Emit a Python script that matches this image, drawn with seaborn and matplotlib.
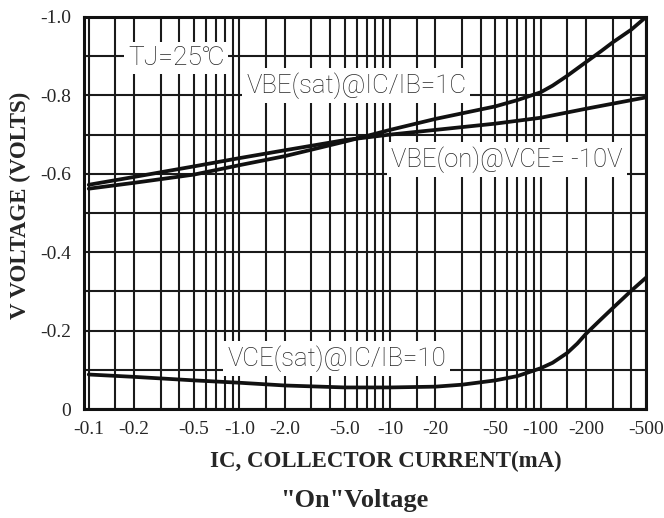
import numpy as np
import pandas as pd
import matplotlib
matplotlib.use('Agg')
import matplotlib.pyplot as plt
from matplotlib.ticker import NullFormatter
import seaborn as sns


# collector current magnitude (mA) -> voltage (V)
ic_on  = [0.1, 0.2, 0.5, 1.0, 2.0, 5.0, 10, 20, 50, 100, 200, 500]
vbe_on = [-0.572, -0.592, -0.619, -0.640, -0.660, -0.686, -0.700,
          -0.712, -0.728, -0.743, -0.766, -0.795]

ic_sat  = [0.1, 0.2, 0.5, 1.0, 2.0, 5.0, 10, 20, 50, 70, 100, 120, 150, 200,
           250, 300, 400, 500]
vbe_sat = [-0.562, -0.577, -0.598, -0.622, -0.645, -0.682, -0.712, -0.740,
           -0.772, -0.788, -0.808, -0.825, -0.850, -0.885, -0.912, -0.935,
           -0.968, -1.000]

ic_ce  = [0.1, 0.2, 0.5, 1.0, 2.0, 5.0, 10, 20, 30, 50, 70, 100, 120, 150,
          175, 200, 250, 300, 400, 500]
vce_sat = [-0.088, -0.082, -0.073, -0.067, -0.060, -0.055, -0.055, -0.057,
           -0.062, -0.073, -0.084, -0.104, -0.118, -0.143, -0.167, -0.192,
           -0.228, -0.257, -0.302, -0.335]

x_ticks  = [0.1, 0.2, 0.5, 1.0, 2.0, 5.0, 10, 20, 50, 100, 200, 500]
x_labels = ['-0.1', '-0.2', '-0.5', '-1.0', '-2.0', '-5.0',
            '-10', '-20', '-50', '-100', '-200', '-500']
y_ticks  = [0, -0.2, -0.4, -0.6, -0.8, -1.0]
y_labels = ['0', '-0.2', '-0.4', '-0.6', '-0.8', '-1.0']


sns.set_style('white')
plt.rcParams['axes.unicode_minus'] = False
SERIF = 'Liberation Serif'
LABEL_FONT = ['Roboto', 'DejaVu Sans']

fig = plt.figure(figsize=(6.64, 5.18), dpi=100)
ax = fig.add_axes([84 / 664, 109 / 518, 562 / 664, 392 / 518])

curves = [
    (ic_on, vbe_on),
    (ic_sat, vbe_sat),
    (ic_ce, vce_sat),
]
for ic, v in curves:
    df = pd.DataFrame({'ic': ic, 'v': v})
    sns.lineplot(data=df, x='ic', y='v', ax=ax, color='#111111',
                 lw=2.7, sort=False, zorder=3)

ax.set_xscale('log')
ax.set_xlim(0.093, 500)
ax.set_ylim(0, -1.0)

# log grid with an extra 1.5 line per decade
grid_x = [d * m for d in (0.1, 1, 10, 100)
          for m in (1, 1.5, 2, 3, 4, 5, 6, 7, 8, 9) if d * m <= 500]
ax.set_xticks(grid_x, minor=True)
ax.xaxis.set_minor_formatter(NullFormatter())
ax.set_xticks(x_ticks)
ax.set_xticklabels(x_labels, fontsize=14, family=SERIF)
ax.set_yticks(np.round(np.arange(-0.1, -1.0, -0.2), 1), minor=True)
ax.yaxis.set_minor_formatter(NullFormatter())
ax.set_yticks(y_ticks)
ax.set_yticklabels(y_labels, fontsize=14, family=SERIF)
ax.tick_params(which='both', length=0)
ax.tick_params(axis='x', pad=9)
ax.tick_params(axis='y', pad=9)

ax.set_axisbelow(True)
ax.grid(which='both', color='#1a1a1a', lw=1.5)
for s in ax.spines.values():
    s.set_color('#111111')
    s.set_linewidth(2.2)

ax.set_xlabel('')
ax.set_ylabel('')

box = dict(facecolor='white', edgecolor='none', pad=3)
ax.text(0.38, -0.895, 'TJ=25\u2103', fontsize=19, family=LABEL_FONT,
        fontweight='light', ha='center', va='center', bbox=box, zorder=4)
ax.text(1.11, -0.826, 'VBE(sat)@IC/IB=1C', fontsize=18.5, family=LABEL_FONT,
        fontweight='light', ha='left', va='center', bbox=box, zorder=4)
ax.text(10.2, -0.637, 'VBE(on)@VCE= -10V', fontsize=18.5, family=LABEL_FONT,
        fontweight='light', ha='left', va='center', bbox=box, zorder=4)
ax.text(0.83, -0.128, 'VCE(sat)@IC/IB=10', fontsize=18.5, family=LABEL_FONT,
        fontweight='light', ha='left', va='center', bbox=box, zorder=4)

fig.text(20 / 664, 1 - 205 / 518, 'V VOLTAGE (VOLTS)', fontsize=16.5,
         family=SERIF, fontweight='bold', rotation=90,
         ha='center', va='center')
fig.text(386 / 664, 1 - 461 / 518, 'IC, COLLECTOR CURRENT(mA)', fontsize=16.5,
         family=SERIF, fontweight='bold', ha='center', va='center')
fig.text(354 / 664, 1 - 500 / 518, '"On"Voltage', fontsize=19,
         family=SERIF, fontweight='bold', ha='center', va='center')

fig.savefig('out.png', dpi=100)
